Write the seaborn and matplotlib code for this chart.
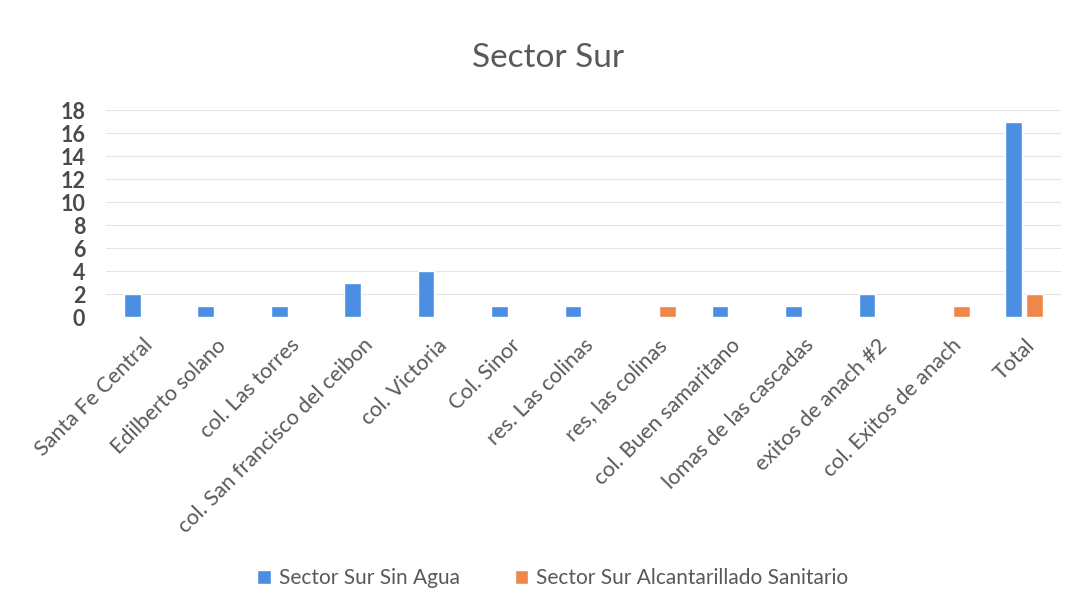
import pandas as pd
import matplotlib
matplotlib.use("Agg")
import matplotlib.pyplot as plt
import seaborn as sns
import numpy as np

# --- data ---
categories = [
    "Santa Fe Central", "Edilberto solano", "col. Las torres",
    "col. San francisco del ceibon", "col. Victoria", "Col. Sinor",
    "res. Las colinas", "res, las colinas", "col. Buen samaritano",
    "lomas de las cascadas", "exitos de anach #2", "col. Exitos de anach",
    "Total",
]
sin_agua = [2, 1, 1, 3, 4, 1, 1, np.nan, 1, 1, 2, np.nan, 17]
alcantarillado = [np.nan, np.nan, np.nan, np.nan, np.nan, np.nan, np.nan, 1,
                  np.nan, np.nan, np.nan, 1, 2]
series_names = ["Sector Sur Sin Agua", "Sector Sur Alcantarillado Sanitario"]
colors = ["#4a8fe2", "#f0874a"]
y_ticks = list(range(0, 19, 2))

df = pd.DataFrame({
    "categoria": categories * 2,
    "valor": sin_agua + alcantarillado,
    "serie": [series_names[0]] * len(categories) + [series_names[1]] * len(categories),
})

sns.set_theme(style="white")
plt.rcParams["font.family"] = ["Lato", "DejaVu Sans"]
text_col = "#595959"

fig = plt.figure(figsize=(10.78, 6.12), dpi=100)
ax = fig.add_axes([0.0983, 0.482, 0.886, 0.338])

sns.barplot(data=df, x="categoria", y="valor", hue="serie", palette=colors,
            width=0.57, gap=0.2, ax=ax, legend=True, saturation=1)

ax.set_ylim(0, 18)
ax.set_yticks(y_ticks)
ax.set_yticklabels([str(t) for t in y_ticks], fontsize=15.5, color="#4a4a4a",
                   fontweight="bold")
ax.set_xlim(-0.5, len(categories) - 0.5)
ax.set_xlabel("")
ax.set_ylabel("")
ax.set_xticks(range(len(categories)))
ax.set_xticklabels(categories, rotation=45, ha="right", rotation_mode="anchor",
                   fontsize=15.5, color=text_col)
ax.tick_params(axis="x", length=0, pad=13)
ax.tick_params(axis="y", length=0, pad=15)
ax.yaxis.grid(True, color="#e4e4e4", linewidth=0.8)
ax.set_axisbelow(True)
for s in ax.spines.values():
    s.set_visible(False)

fig.text(0.508, 0.905, "Sector Sur", ha="center", va="center",
         fontsize=24, color=text_col)

handles, labels = ax.get_legend_handles_labels()
ax.legend_.remove()
fig.legend(handles, labels, loc="center", bbox_to_anchor=(0.513, 0.055),
           ncol=2, frameon=False, fontsize=15, labelcolor=text_col,
           handlelength=0.65, handleheight=0.65, handletextpad=0.4,
           columnspacing=2.6)

fig.savefig("out.png", dpi=100, facecolor="white")
